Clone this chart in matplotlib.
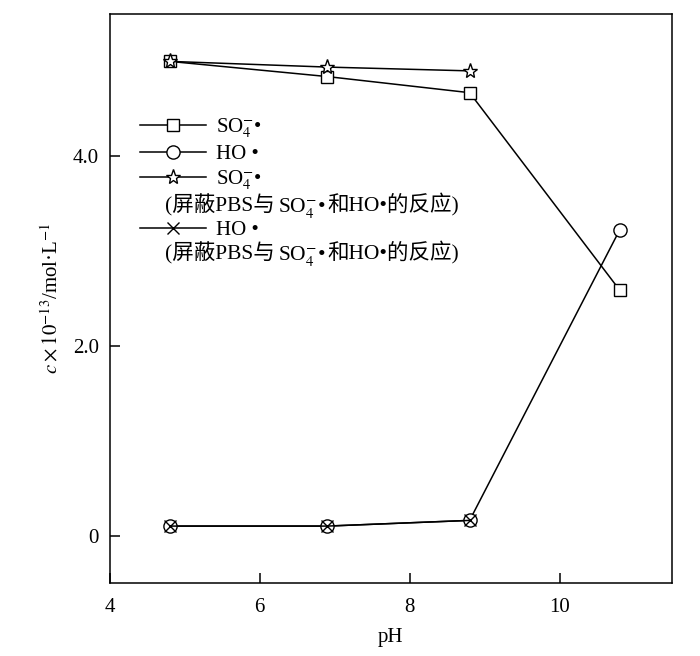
import matplotlib
matplotlib.use('Agg')
import matplotlib.pyplot as plt
from matplotlib.lines import Line2D
from matplotlib.offsetbox import TextArea, HPacker, AnnotationBbox

# Fuentes: Times para el texto latino, CJK para los caracteres chinos
familia = ['Liberation Serif', 'Noto Sans CJK SC']
plt.rcParams['font.family'] = familia
plt.rcParams['mathtext.fontset'] = 'stix'

# Datos
ph_sulfato = [4.8, 6.9, 8.8, 10.8]
c_sulfato = [5.0, 4.84, 4.67, 2.59]
ph_hidroxilo = [4.8, 6.9, 8.8, 10.8]
c_hidroxilo = [0.10, 0.10, 0.16, 3.22]
ph_sulfato_pbs = [4.8, 6.9, 8.8]
c_sulfato_pbs = [5.0, 4.94, 4.90]
ph_hidroxilo_pbs = [4.8, 6.9, 8.8]
c_hidroxilo_pbs = [0.10, 0.10, 0.16]

etiquetas = [r'SO$_4^{-}$•', 'HO •', r'SO$_4^{-}$•', 'HO •']
# La nota se parte en trozos: mathtext no tiene glifos chinos
nota_pbs = ['(屏蔽PBS与', r'SO$_4^{-}$•', '和HO•的反应)']

fig = plt.figure(figsize=(7.0, 6.56), dpi=100)
ax = fig.add_axes([0.157, 0.1113, 0.803, 0.8674])

estilo = dict(color='black', linewidth=1.1, markerfacecolor='white',
              markeredgecolor='black', markeredgewidth=1.0)
l1, = ax.plot(ph_sulfato, c_sulfato, marker='s', markersize=8.5, **estilo)
l2, = ax.plot(ph_hidroxilo, c_hidroxilo, marker='o', markersize=9.5,
              **estilo)
l3, = ax.plot(ph_sulfato_pbs, c_sulfato_pbs, marker='*', markersize=11,
              **estilo)
l4, = ax.plot(ph_hidroxilo_pbs, c_hidroxilo_pbs, marker='x', markersize=8.5,
              **estilo)

ax.set_xlim(4, 11.5)
ax.set_ylim(-0.5, 5.5)
ax.set_xticks([4, 6, 8, 10])
ax.set_xticklabels(['4', '6', '8', '10'])
ax.set_yticks([0, 2, 4])
ax.set_yticklabels(['0', '2.0', '4.0'])
ax.tick_params(direction='in', length=7, width=1.1, labelsize=15)
ax.tick_params(axis='x', pad=11)
ax.tick_params(axis='y', pad=8)
for lado in ax.spines.values():
    lado.set_linewidth(1.1)

ax.set_xlabel('pH', fontsize=15, labelpad=8)
ax.set_ylabel(r'$c\times10^{-13}$/mol·L$^{-1}$', fontsize=15, labelpad=7)

# Leyenda con filas vacías para las notas
vacio = Line2D([], [], linestyle='none')
leg = ax.legend([l1, l2, l3, vacio, l4, vacio],
                [etiquetas[0], etiquetas[1], etiquetas[2], ' ',
                 etiquetas[3], ' '],
                loc='upper left', bbox_to_anchor=(0.053, 0.82),
                frameon=False, fontsize=15, handlelength=3.2,
                handletextpad=0.45, labelspacing=0.22, borderpad=0,
                borderaxespad=0)

fig.canvas.draw()
textos = leg.get_texts()
x0 = ax.transAxes.inverted().transform((165, 0))[0]
for i in (3, 5):
    bb = textos[i].get_window_extent()
    yc = ax.transAxes.inverted().transform((0, (bb.y0 + bb.y1) / 2))[1]
    trozos = [TextArea(t, textprops=dict(fontsize=15.5, family=familia))
              for t in nota_pbs]
    caja = HPacker(children=trozos, align='baseline', pad=0, sep=2)
    ab = AnnotationBbox(caja, (x0, yc), xycoords='axes fraction',
                        box_alignment=(0, 0.5), frameon=False, pad=0)
    ax.add_artist(ab)

fig.savefig('out.png', dpi=100)
